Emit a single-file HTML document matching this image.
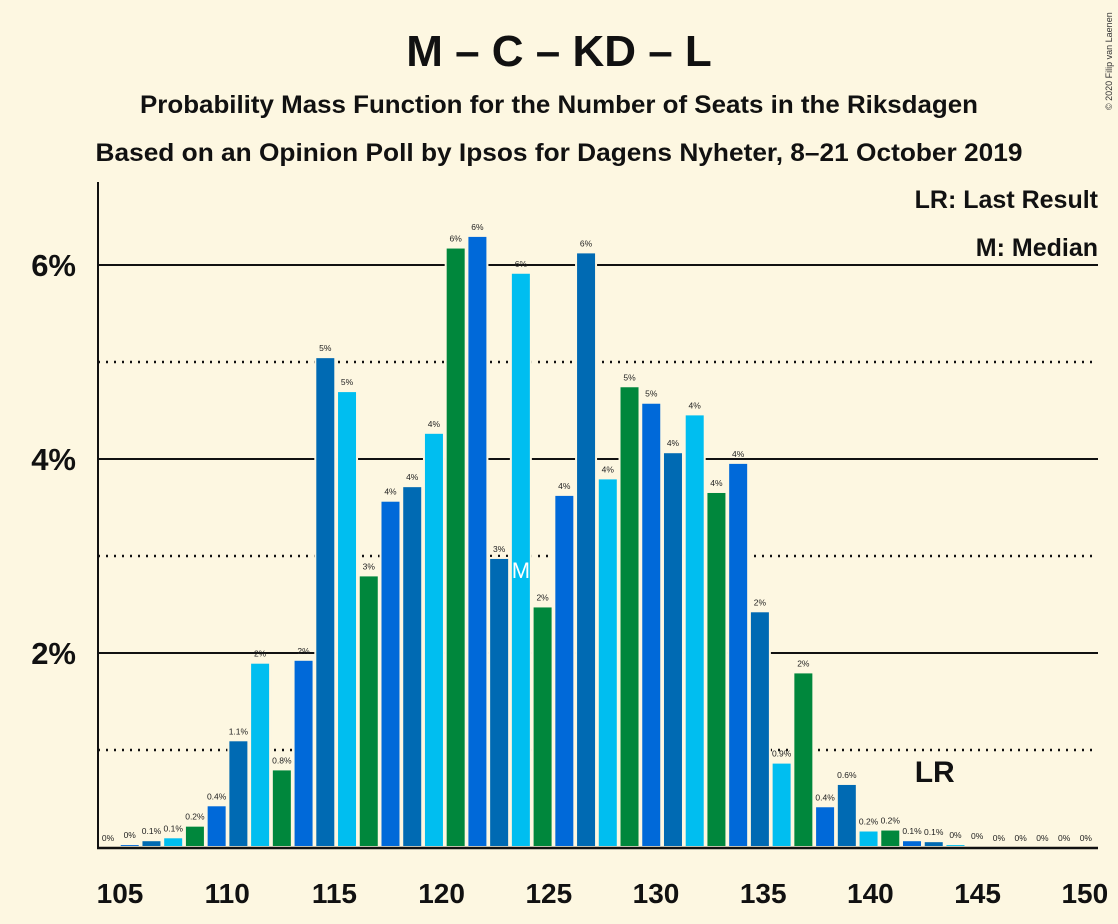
<!DOCTYPE html>
<html><head><meta charset="utf-8"><style>
body{margin:0;background:#fdf7e1;}
svg{display:block;font-family:"Liberation Sans",sans-serif;}
</style></head><body>
<svg id="chart" width="1118" height="924">
<rect width="1118" height="924" fill="#fdf7e1"/>
<text x="559" y="66" text-anchor="middle" font-size="44" font-weight="bold" fill="#111">M – C – KD – L</text>
<text x="559" y="113" text-anchor="middle" font-size="25" font-weight="bold" fill="#111" textLength="838" lengthAdjust="spacingAndGlyphs">Probability Mass Function for the Number of Seats in the Riksdagen</text>
<text x="559" y="161" text-anchor="middle" font-size="25" font-weight="bold" fill="#111" textLength="927" lengthAdjust="spacingAndGlyphs">Based on an Opinion Poll by Ipsos for Dagens Nyheter, 8–21 October 2019</text>
<text x="1098" y="208" text-anchor="end" font-size="25" font-weight="bold" fill="#111">LR: Last Result</text>
<text x="1098" y="256" text-anchor="end" font-size="25" font-weight="bold" fill="#111">M: Median</text>
<text transform="translate(1112,110) rotate(-90)" font-size="9" fill="#333">© 2020 Filip van Laenen</text>
<g id="grid"></g><g id="bars"></g><g id="axes"></g>
</svg>
<script>
const seats=[105,106,107,108,109,110,111,112,113,114,115,116,117,118,119,120,121,122,123,124,125,126,127,128,129,130,131,132,133,134,135,136,137,138,139,140,141,142,143,144,145,146,147,148,149,150];
const probs=[0,0.03,0.07,0.1,0.22,0.43,1.1,1.9,0.8,1.93,5.05,4.7,2.8,3.57,3.72,4.27,6.18,6.3,2.98,5.92,2.48,3.63,6.13,3.8,4.75,4.58,4.07,4.46,3.66,3.96,2.43,0.87,1.8,0.42,0.65,0.17,0.18,0.07,0.06,0.03,0.02,0,0,0,0,0];
const labels=["0%","0%","0.1%","0.1%","0.2%","0.4%","1.1%","2%","0.8%","2%","5%","5%","3%","4%","4%","4%","6%","6%","3%","6%","2%","4%","6%","4%","5%","5%","4%","4%","4%","4%","2%","0.9%","2%","0.4%","0.6%","0.2%","0.2%","0.1%","0.1%","0%","0%","0%","0%","0%","0%","0%"];
const yTicks=[2,4,6];
const yMinor=[1,3,5];
const xTicks=[105,110,115,120,125,130,135,140,145,150];
const medianSeat=124, lastResultSeat=143;
const colors=["#0069d9","#006ab3","#00bef0","#00873c"];
const NS="http://www.w3.org/2000/svg";
const x=s=>108+(s-105)*21.73;
const xt=s=>120+(s-105)*21.44;
const y=p=>847-p*97;
function mk(t,a,parent){const e=document.createElementNS(NS,t);for(const k in a)e.setAttribute(k,a[k]);parent.appendChild(e);return e;}
const grid=document.getElementById('grid'),bars=document.getElementById('bars'),axes=document.getElementById('axes');
yTicks.forEach(v=>{
 const l=mk('line',{x1:98,x2:1098,y1:y(v),y2:y(v),stroke:'#111','stroke-width':2},grid);
 
 
 const t=mk('text',{x:76,y:y(v)+11,'text-anchor':'end','font-size':31,'font-weight':'bold',fill:'#111'},axes);
 t.textContent=v+'%';
 
 
});
yMinor.forEach(v=>{
 const l=mk('line',{x1:98,x2:1098,y1:y(v),y2:y(v),stroke:'#111','stroke-width':2.5,'stroke-dasharray':'2,6'},grid);
 
 
});
seats.forEach((s,i)=>{
 const p=probs[i];
 if(p>0){
  const r=mk('rect',{x:x(s)-10,y:y(p),width:20,height:847-y(p),fill:colors[((s-106)%4+4)%4],stroke:'#fdf7e1','stroke-width':2},bars);
  
  
 }
 const t=mk('text',{x:x(s),y:y(p)-6,'text-anchor':'middle','font-size':8.5,fill:'#222'},bars);
 t.textContent=labels[i];
 
 
});
const m=mk('text',{x:x(medianSeat),y:578,'text-anchor':'middle','font-size':22,fill:'#fff'},bars);
m.textContent='M';


const lr=mk('text',{x:x(lastResultSeat)+1,y:782,'text-anchor':'middle','font-size':30,'font-weight':'bold',fill:'#111'},bars);
lr.textContent='LR';


const ya=mk('line',{x1:98,x2:98,y1:182,y2:848,stroke:'#111','stroke-width':2},axes);


const xa=mk('line',{x1:97,x2:1098,y1:848,y2:848,stroke:'#111','stroke-width':2.5},axes);


xTicks.forEach(v=>{
 const t=mk('text',{x:xt(v),y:903,'text-anchor':'middle','font-size':28,'font-weight':'bold',fill:'#111'},axes);
 t.textContent=v;
 
 
});
</script>
</body></html>
